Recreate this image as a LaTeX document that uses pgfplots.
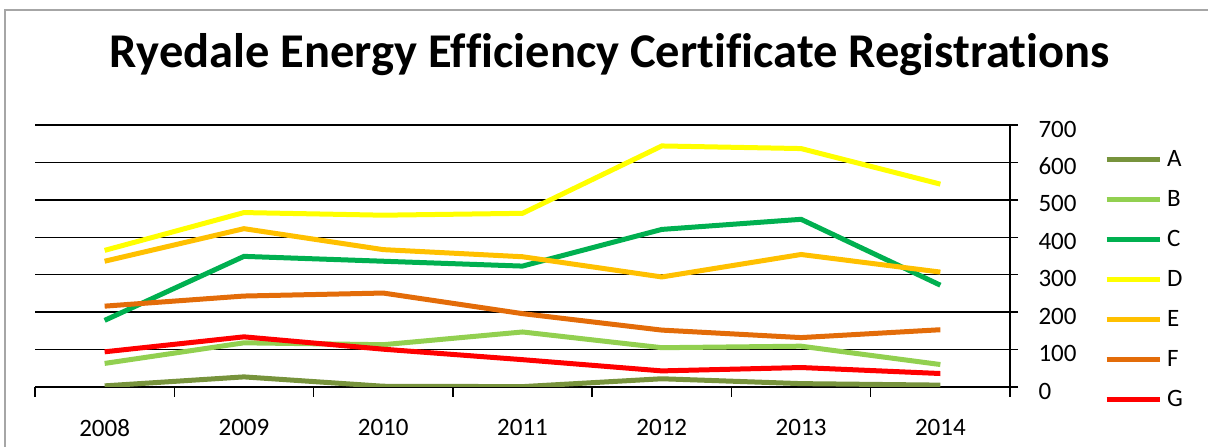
\documentclass[border=0pt]{standalone}
\usepackage{pgfplots}
\pgfplotsset{compat=1.18}
\usepackage{fontspec}
\setmainfont{Carlito}[Ligatures={NoCommon}]
\definecolor{cA}{HTML}{77933C}
\definecolor{cB}{HTML}{92D050}
\definecolor{cC}{HTML}{00B050}
\definecolor{cD}{HTML}{FFFF00}
\definecolor{cE}{HTML}{FFC000}
\definecolor{cF}{HTML}{E36C09}
\definecolor{cG}{HTML}{FF0000}
\begin{document}
\begin{tikzpicture}[x=1bp,y=1bp]
\useasboundingbox (0,0) rectangle (1208,447);
\draw[gray!70, line width=1.5bp] (5,0) -- (5,437) -- (1208,437);
\node[font=\fontsize{48.5bp}{56bp}\selectfont\bfseries] at (610,392) {Ryedale Energy Efficiency Certificate Registrations};
\begin{axis}[
  at={(35bp,60bp)}, anchor=south west,
  scale only axis, width=975bp, height=262bp,
  xmin=-0.5, xmax=6.5, ymin=0, ymax=700,
  axis x line*=bottom, axis y line*=right,
  axis line style={black, line width=1.5bp, -},
  xtick={0,...,6},
  xticklabels={2008,2009,2010,2011,2012,2013,2014},
  minor xtick={-0.5,0.5,...,6.5},
  x tick style={draw=none},
  minor x tick style={draw=black, line width=1.5bp},
  minor tick length=10bp,
  tick align=outside,
  ytick={0,100,...,700},
  y tick style={black, line width=1.5bp},
  major tick length=16bp,
  ytick align=center,
  ymajorgrids, grid style={black, line width=1.5bp},
  tick label style={font=\fontsize{25bp}{30bp}\selectfont},
  /pgf/number format/assume math mode=true,
  xticklabel style={anchor=north, yshift=-13bp},
  every y tick label/.style={anchor=west, xshift=17bp, yshift=-4bp},
  every axis plot/.append style={line width=5bp, mark=none},
  legend style={at={(1.0964,0.947)}, anchor=north west, draw=none, fill=none,
    inner sep=0pt, row sep=0pt,
    font=\fontsize{25bp}{30bp}\selectfont,
    nodes={inner sep=0pt, text height=27bp, text depth=13bp}},
  legend cell align=left,
  legend image code/.code={\draw[#1, line width=5bp] (0bp,0bp) -- (53bp,0bp);},
  /tikz/every odd column/.append style={column sep=5bp},
]
\addplot[cA] coordinates {(0,3) (1,27) (2,2) (3,1) (4,22) (5,9) (6,5)};
\addplot[cB] coordinates {(0,63) (1,118) (2,113) (3,147) (4,105) (5,109) (6,60)};
\addplot[cC] coordinates {(0,178) (1,349) (2,336) (3,323) (4,421) (5,448) (6,272)};
\addplot[cD] coordinates {(0,365) (1,466) (2,459) (3,464) (4,644) (5,637) (6,542)};
\addplot[cE] coordinates {(0,336) (1,423) (2,367) (3,348) (4,294) (5,354) (6,307)};
\addplot[cF] coordinates {(0,216) (1,243) (2,251) (3,196) (4,152) (5,132) (6,153)};
\addplot[cG] coordinates {(0,94) (1,134) (2,101) (3,73) (4,43) (5,52) (6,36)};
\legend{A,B,C,D,E,F,G}
\end{axis}
\end{tikzpicture}
\end{document}
